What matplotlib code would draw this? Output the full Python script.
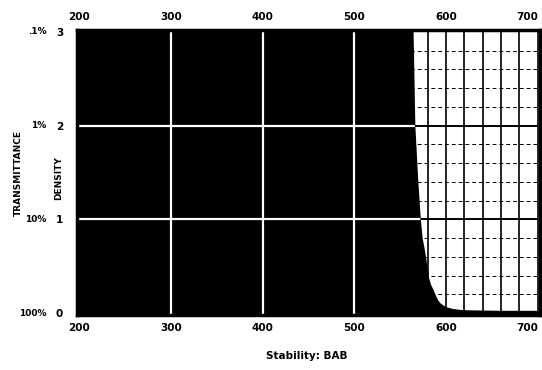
'''
Filter transmittance chart: density vs wavelength
'''

import matplotlib
matplotlib.use('Agg')
import matplotlib.pyplot as plt
import matplotlib.transforms as mtrans

# curve (wavelength nm, density)
wavelength = [196, 560, 564, 566, 569, 572, 573, 574, 576, 578, 579.5, 581, 583, 586, 588, 591,
              594, 597, 601, 607, 615, 626, 660, 705]
density = [3.3, 3.3, 3.05, 2.0, 1.45, 1.0, 0.9, 0.8, 0.7, 0.58, 0.47, 0.38, 0.31, 0.25, 0.2, 0.14,
           0.105, 0.085, 0.065, 0.05, 0.04, 0.035, 0.03, 0.03]

x_ticks = [200, 300, 400, 500, 600, 700]
dens_ticks = [0, 1, 2, 3]
trans_labels = ['100%', '10%', '1%', '.1%']
minor_x = [580, 600, 620, 640, 660, 680, 700]
minor_y = [0.2, 0.4, 0.6, 0.8, 1.2, 1.4, 1.6, 1.8, 2.2, 2.4, 2.6, 2.8]

plt.rcParams['font.family'] = ['DejaVu Sans']
plt.rcParams['font.weight'] = 'bold'

fig = plt.figure(figsize=(5.42, 3.70), dpi=100)
ax = fig.add_axes([77/542, 55/370, 463/542, 285/370])
ax.set_xlim(197.5, 702.5)
ax.set_ylim(-0.02, 3.02)

# black grid on the white part (sits under the fill)
for x in minor_x:
    ax.axvline(x, color='black', lw=1.2, zorder=1)
for y in minor_y:
    ax.axhline(y, color='black', lw=0.7, ls=(0, (4, 3)), zorder=1)
for y in [1, 2]:
    ax.axhline(y, color='black', lw=1.4, zorder=1)

# density curve, black below it
poly = ax.fill_between(wavelength, -0.5, density, color='black', lw=0, zorder=2)
clip = poly.get_paths()[0]

# white major grid only inside the black area
for x in [300, 400, 500]:
    ln = ax.axvline(x, color='white', lw=1.6, zorder=3)
    ln.set_clip_path(clip, ax.transData)
for y in [1, 2]:
    ln = ax.axhline(y, color='white', lw=1.6, zorder=3)
    ln.set_clip_path(clip, ax.transData)

for s in ax.spines.values():
    s.set_linewidth(2.5)
    s.set_zorder(5)

ax.set_xticks(x_ticks)
ax.set_yticks(dens_ticks)
ax.tick_params(length=0, labelsize=7.5, top=True, labeltop=True)
ax.tick_params(axis='x', pad=6)
ax.tick_params(axis='y', pad=10)
# the 700 sits inside the frame on the scan
last = ax.xaxis.get_major_ticks()[-1]
last.label1.set_horizontalalignment('right')
last.label2.set_horizontalalignment('right')

tr = mtrans.blended_transform_factory(ax.transAxes, ax.transData)
for d, lab in zip(dens_ticks, trans_labels):
    ax.text(-0.066, d, lab, transform=tr, ha='right', va='center', fontsize=6.5)

fig.text(18/542, 1 - 173/370, 'TRANSMITTANCE', rotation=90, ha='center', va='center', fontsize=6.5)
fig.text(59/542, 1 - 178/370, 'DENSITY', rotation=90, ha='center', va='center', fontsize=6.5)
fig.text(307/542, 1 - 356/370, 'Stability: BAB', ha='center', va='center', fontsize=7.5)

fig.savefig('out.png', dpi=100)
